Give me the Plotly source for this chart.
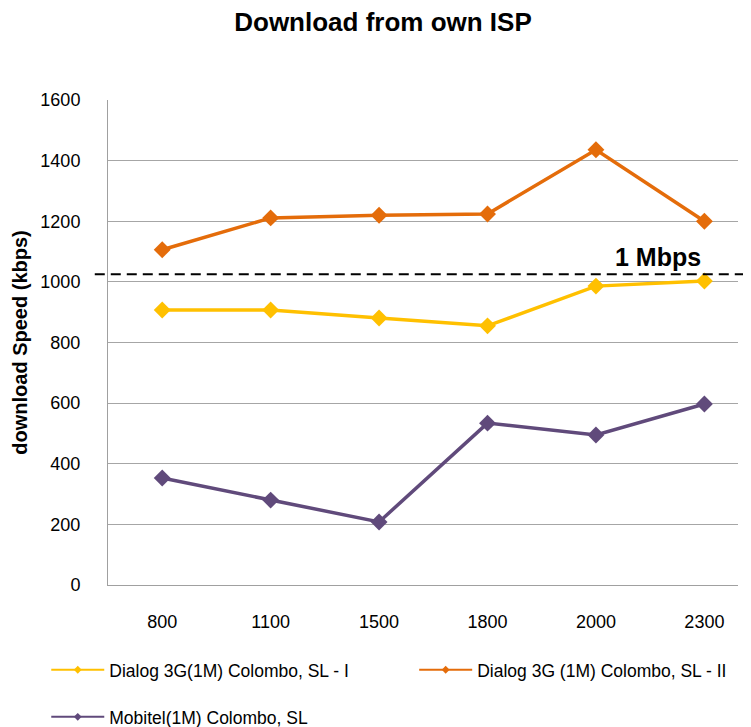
import plotly.graph_objects as go

categories = ["800", "1100", "1500", "1800", "2000", "2300"]
dialog_i = [907, 907, 881, 855, 986, 1003]
dialog_ii = [1106, 1211, 1220, 1224, 1436, 1200]
mobitel = [353, 280, 208, 534, 495, 597]
threshold = 1025
y_ticks = [0, 200, 400, 600, 800, 1000, 1200, 1400, 1600]

series = [
    ("Dialog 3G(1M) Colombo, SL - I", dialog_i, "#FFC000", "legend"),
    ("Dialog 3G (1M) Colombo, SL - II", dialog_ii, "#E46C0A", "legend2"),
    ("Mobitel(1M) Colombo, SL", mobitel, "#604A7B", "legend3"),
]

fig = go.Figure()
for name, vals, col, lg in series:
    fig.add_trace(go.Scatter(
        x=categories, y=vals, name=name, mode="lines+markers",
        line=dict(color=col, width=3.5),
        marker=dict(symbol="diamond", size=13, color=col),
        showlegend=False,
    ))
    # legend entry with a thin line and small marker, like the reference
    fig.add_trace(go.Scatter(
        x=[None], y=[None], name=name, mode="lines+markers",
        line=dict(color=col, width=2),
        marker=dict(symbol="diamond", size=6, color=col),
        legend=lg, showlegend=True, hoverinfo="skip",
    ))

fig.add_shape(type="line", xref="paper", yref="y", x0=-0.021, x1=1.03,
              y0=threshold, y1=threshold,
              line=dict(color="black", width=2, dash="10px,6px"))
fig.add_annotation(xref="paper", yref="y", x=0.873, y=threshold, yshift=17,
                   yanchor="middle", xanchor="center", text="<b>1 Mbps</b>",
                   showarrow=False,
                   font=dict(family="Arial, Liberation Sans", size=25, color="black"))

legend_font = dict(family="Liberation Sans Narrow, Arial Narrow, Liberation Sans",
                   size=17.5, color="black")
common = dict(xanchor="left", yanchor="middle", font=legend_font,
              bgcolor="rgba(0,0,0,0)", itemwidth=53)

# page body has an 8px margin; figure is offset by (8, 8)
fig.update_layout(
    width=743, height=719,
    margin=dict(l=100, r=13, t=92, b=142, autoexpand=False),
    paper_bgcolor="white", plot_bgcolor="white",
    title=dict(text="<b>Download from own ISP</b>", x=(383 - 8) / 743, xanchor="center",
               y=1 - (22 - 8) / 719, yanchor="middle",
               font=dict(family="Arial, Liberation Sans", size=26, color="black")),
    font=dict(family="Arial, Liberation Sans", color="black"),
    showlegend=True,
    legend=dict(x=-0.098, y=-0.175, **common),
    legend2=dict(x=0.486, y=-0.175, **common),
    legend3=dict(x=-0.098, y=-0.272, **common),
)
fig.update_xaxes(type="category", range=[-0.5, 5.31], showgrid=False, showline=True,
                 linecolor="#A0A0A0", linewidth=1, ticks="", tickfont=dict(size=18),
                 ticklabelstandoff=20)
fig.update_yaxes(range=[0, 1600], tickvals=y_ticks, showgrid=True, gridcolor="#A6A6A6",
                 gridwidth=1, showline=True, linecolor="#A0A0A0", zeroline=False,
                 ticks="", tickfont=dict(size=18), ticklabelstandoff=23,
                 title=dict(text="<b>download Speed (kbps)</b>", font=dict(size=20), standoff=7))

fig.write_html("out.html")
